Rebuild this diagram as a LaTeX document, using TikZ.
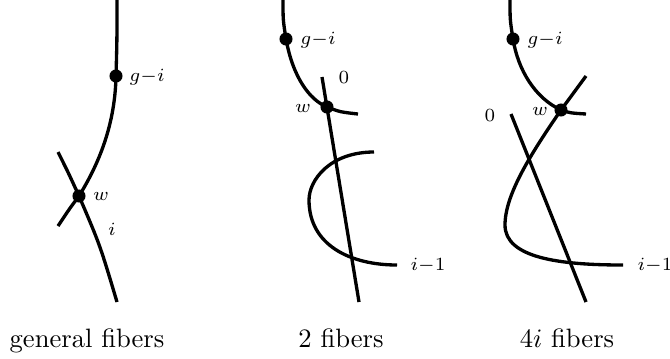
\documentclass[tikz,border=0pt]{standalone}
\usepackage{amsmath,amssymb}
\usepackage{tikz}
\usetikzlibrary{calc}
\tikzset{
    fiber/.style={line width=1.25pt,black},
    fiberdot/.style={circle,fill=black,inner sep=0pt,minimum size=4.9pt},
    lbl/.style={font=\scriptsize,inner sep=0pt},
    caption/.style={anchor=base,font=\normalsize,inner sep=0pt}
}
\begin{document}
\begin{tikzpicture}[x=0.376pt,y=-0.376pt]
    \useasboundingbox (0,0) rectangle (670,358);
    % Panel 1: general fibers
    \coordinate (top1) at (117,0);
    \coordinate (gi1) at (116,76);
    \coordinate (w1) at (79,196);
    \coordinate (endA1) at (58,226);
    \coordinate (startB1) at (58,152);
    \coordinate (endB1) at (117,302);
    \draw[fiber] (top1) .. controls (117,40) .. (gi1) .. controls (115,130) and (95,170) .. (w1) .. controls (70,208) .. (endA1);
    \draw[fiber] (startB1) .. controls (68,172) .. (w1) .. controls (100,245) .. (endB1);
    \node[fiberdot] (gi1dot) at (gi1) {};
    \node[fiberdot] (w1dot) at (w1) {};
    \node[lbl] (gi1lbl) at (147,77) {$g{-}i$};
    \node[lbl] (w1lbl) at (101,196) {$w$};
    \node[lbl] (i1lbl) at (112,229) {$i$};
    \node[caption] (cap1) at (87,347) {general fibers};
    % Panel 2: 2 fibers
    \coordinate (top2) at (283,0);
    \coordinate (gi2) at (286,39);
    \coordinate (w2) at (327,107);
    \coordinate (end2) at (358,114);
    \coordinate (zeroA2) at (322,77);
    \coordinate (zeroB2) at (359,302);
    \coordinate (cTop2) at (374,152);
    \coordinate (cLeft2) at (309,200);
    \coordinate (cEnd2) at (397,265);
    \draw[fiber] (top2) .. controls (283,20) .. (gi2) .. controls (293,78) and (310,100) .. (w2) .. controls (340,112) .. (end2);
    \draw[fiber] (zeroA2) -- (zeroB2);
    \draw[fiber] (cTop2) .. controls (330,152) and (309,180) .. (cLeft2) .. controls (309,245) and (350,265) .. (cEnd2);
    \node[fiberdot] (gi2dot) at (gi2) {};
    \node[fiberdot] (w2dot) at (w2) {};
    \node[lbl] (gi2lbl) at (318,40) {$g{-}i$};
    \node[lbl] (zero2lbl) at (344,77) {$0$};
    \node[lbl] (w2lbl) at (303,108) {$w$};
    \node[lbl] (i2lbl) at (428,265) {$i{-}1$};
    \node[caption] (cap2) at (341,347) {2 fibers};
    % Panel 3: 4i fibers
    \coordinate (top3) at (510,0);
    \coordinate (gi3) at (513,39);
    \coordinate (w3) at (561,110);
    \coordinate (end3) at (586,114);
    \coordinate (sTop3) at (586,76);
    \coordinate (sLeft3) at (505,225);
    \coordinate (sEnd3) at (623,265);
    \coordinate (zeroA3) at (511,114);
    \coordinate (zeroB3) at (586,302);
    \draw[fiber] (top3) .. controls (510,20) .. (gi3) .. controls (518,70) and (535,98) .. (w3) .. controls (570,113) .. (end3);
    \draw[fiber] (sTop3) -- (w3) .. controls (530,155) and (505,195) .. (sLeft3) .. controls (505,258) and (560,265) .. (sEnd3);
    \draw[fiber] (zeroA3) -- (zeroB3);
    \node[fiberdot] (gi3dot) at (gi3) {};
    \node[fiberdot] (w3dot) at (w3) {};
    \node[lbl] (gi3lbl) at (545,40) {$g{-}i$};
    \node[lbl] (zero3lbl) at (490,115) {$0$};
    \node[lbl] (w3lbl) at (540,111) {$w$};
    \node[lbl] (i3lbl) at (655,265) {$i{-}1$};
    \node[caption] (cap3) at (567,347) {$4i$ fibers};
\end{tikzpicture}
\end{document}
